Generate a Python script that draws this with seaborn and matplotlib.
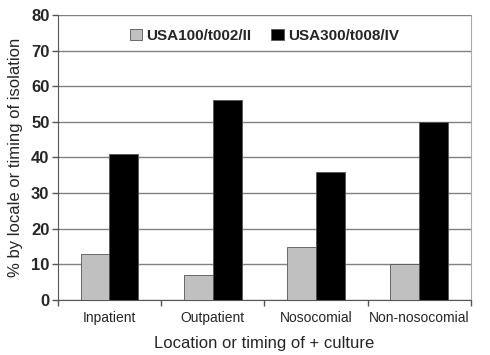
import numpy as np
import pandas as pd
import matplotlib
matplotlib.use("Agg")
import matplotlib.pyplot as plt
import seaborn as sns

categories = ["Inpatient", "Outpatient", "Nosocomial", "Non-nosocomial"]
usa100 = [13, 7, 15, 10]
usa300 = [41, 56, 36, 50]
series_names = ["USA100/t002/II", "USA300/t008/IV"]

df = pd.DataFrame({
    "location": categories * 2,
    "value": usa100 + usa300,
    "strain": [series_names[0]] * 4 + [series_names[1]] * 4,
})

sns.set_style("white")
plt.rcParams["font.family"] = ["Liberation Sans", "DejaVu Sans"]

fig = plt.figure(figsize=(4.9, 3.55), dpi=100)
ax = fig.add_axes([0.118, 0.155, 0.843, 0.803])

sns.barplot(data=df, x="location", y="value", hue="strain",
            palette=["#c0c0c0", "#000000"], width=0.56,
            edgecolor="#555555", linewidth=0.6, ax=ax, zorder=3)

ax.set_ylim(0, 80)
ax.set_xlim(-0.5, 3.5)
ax.set_yticks(range(0, 81, 10))
ax.yaxis.grid(True, color="#808080", linewidth=1.0, zorder=0)
ax.set_axisbelow(True)
for lab in ax.get_yticklabels():
    lab.set_fontweight("bold")
ax.tick_params(axis="y", labelsize=12, length=4, width=1, color="#555555",
               left=True, pad=2)
ax.tick_params(axis="x", labelsize=10, length=0, pad=8)
ax.set_xticks(np.arange(-0.5, 4, 1), minor=True)
ax.tick_params(axis="x", which="minor", length=4, width=1, color="#555555",
               bottom=True)

ax.spines["left"].set_color("#555555")
ax.spines["bottom"].set_color("#555555")
ax.spines["right"].set_color("#aaaaaa")
ax.spines["top"].set_visible(False)

ax.set_xlabel("Location or timing of + culture", fontsize=12, labelpad=8)
ax.set_ylabel("% by locale or timing of isolation", fontsize=12, labelpad=6)

leg = ax.legend(loc="upper center", ncol=2, frameon=False,
                prop={"weight": "bold", "size": 11},
                handlelength=0.8, handleheight=0.8, handletextpad=0.3,
                columnspacing=1.3, bbox_to_anchor=(0.5, 1.0))

fig.savefig("out.png", dpi=100)
